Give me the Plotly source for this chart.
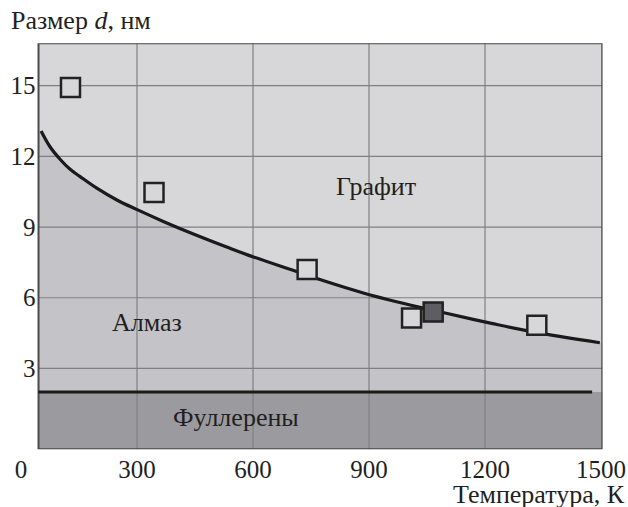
import plotly.graph_objects as go

# ---------------- data ----------------
# boundary curve diamond / graphite: temperature (K) vs size d (nm)
curve_T = [52, 75, 101, 127, 153, 196, 248, 299, 368, 454, 532, 584, 722, 773, 894, 1032, 1097, 1217, 1324, 1497]
curve_d = [13.08, 12.41, 11.88, 11.45, 11.14, 10.65, 10.15, 9.75, 9.24, 8.65, 8.15, 7.83, 7.06, 6.77, 6.16, 5.59, 5.35, 4.91, 4.55, 4.09]

# experimental points (open squares)
open_T = [128, 344, 740, 1010, 1334]
open_d = [14.92, 10.47, 7.20, 5.14, 4.83]
# filled square
filled_T = [1066]
filled_d = [5.39]

# fullerene boundary
fullerene_d = 2.0
fullerene_T = [45, 1477]

x_ticks = [0, 300, 600, 900, 1200, 1500]
y_ticks = [3, 6, 9, 12, 15]
x_grid = [300, 600, 900, 1200]
y_grid = [3, 6, 9, 12, 15]

region_labels = ["Графит", "Алмаз", "Фуллерены"]
region_T = [919, 327, 556]
region_d = [10.74, 4.93, 0.90]
y_title = "Размер <i>d</i>, нм"
x_title = "Температура, К"

# ---------------- layout geometry ----------------
W, H = 628, 507
FONT = "Liberation Serif, Times New Roman, serif"
TXT = "#231f20"
X_RANGE = [0, 1504]
Y_RANGE = [-0.433, 16.80]
FRAME_X = [45.3, 1503.3]
C_GRAPHITE = "#d7d7d9"
C_DIAMOND = "#c4c4c8"
C_FULL = "#9b9b9f"
C_GRID = "#808080"
X0_PX, X_SCALE = 21.0, 0.38667   # pixel of T=0, pixels per kelvin


def px_x(p):
    return p / W


def px_y(p):
    return 1 - p / H


fig = go.Figure()

shapes = []
shapes.append(dict(type="rect", xref="x", yref="y", x0=FRAME_X[0], x1=FRAME_X[1],
                   y0=Y_RANGE[0], y1=Y_RANGE[1], fillcolor=C_GRAPHITE, line_width=0, layer="below"))
path = f"M {FRAME_X[0]},{Y_RANGE[0]} L {FRAME_X[0]},{curve_d[0]} "
path += " ".join(f"L {t},{d}" for t, d in zip(curve_T, curve_d))
path += f" L {FRAME_X[1]},{curve_d[-1]} L {FRAME_X[1]},{Y_RANGE[0]} Z"
shapes.append(dict(type="path", xref="x", yref="y", path=path, fillcolor=C_DIAMOND,
                   line_width=0, layer="below"))
shapes.append(dict(type="rect", xref="x", yref="y", x0=FRAME_X[0], x1=FRAME_X[1],
                   y0=Y_RANGE[0], y1=fullerene_d, fillcolor=C_FULL, line_width=0, layer="below"))
for gx in x_grid:
    shapes.append(dict(type="line", xref="x", yref="y", x0=gx, x1=gx, y0=Y_RANGE[0], y1=Y_RANGE[1],
                       line=dict(color=C_GRID, width=1.2), layer="below"))
for gy in y_grid:
    shapes.append(dict(type="line", xref="x", yref="y", x0=FRAME_X[0], x1=FRAME_X[1], y0=gy, y1=gy,
                       line=dict(color=C_GRID, width=1.2), layer="below"))
shapes.append(dict(type="rect", xref="x", yref="y", x0=FRAME_X[0], x1=FRAME_X[1],
                   y0=Y_RANGE[0], y1=Y_RANGE[1], fillcolor="rgba(0,0,0,0)",
                   line=dict(color="#4a4a4a", width=2), layer="below"))

fig.add_trace(go.Scatter(x=fullerene_T, y=[fullerene_d] * len(fullerene_T), mode="lines",
                         line=dict(color="#1a1a1a", width=3), hoverinfo="skip", showlegend=False))
fig.add_trace(go.Scatter(x=curve_T, y=curve_d, mode="lines",
                         line=dict(color="#1a1a1a", width=3.2, shape="spline", smoothing=1.0),
                         showlegend=False))
fig.add_trace(go.Scatter(x=open_T, y=open_d, mode="markers",
                         marker=dict(symbol="square", size=19, color=C_GRAPHITE,
                                     line=dict(color="#222222", width=2.5)),
                         showlegend=False))
fig.add_trace(go.Scatter(x=filled_T, y=filled_d, mode="markers",
                         marker=dict(symbol="square", size=19, color="#5e5e62",
                                     line=dict(color="#222222", width=2.5)),
                         showlegend=False))

annotations = []
for lbl, t, d in zip(region_labels, region_T, region_d):
    annotations.append(dict(text=lbl, x=t, y=d, xref="x", yref="y", showarrow=False,
                            font=dict(family=FONT, size=26, color=TXT)))
annotations.append(dict(text=y_title, x=px_x(9), y=px_y(21), xref="paper", yref="paper",
                        xanchor="left", yanchor="middle", showarrow=False,
                        font=dict(family=FONT, size=26, color=TXT)))
annotations.append(dict(text=x_title, x=px_x(627), y=px_y(494), xref="paper", yref="paper",
                        xanchor="right", yanchor="middle", showarrow=False,
                        font=dict(family=FONT, size=26, color=TXT)))

x_dom1 = X0_PX + X_SCALE * X_RANGE[1]

fig.update_layout(
    width=W, height=H,
    margin=dict(l=0, r=0, t=0, b=0),
    paper_bgcolor="white", plot_bgcolor="rgba(0,0,0,0)",
    shapes=shapes, annotations=annotations,
    xaxis=dict(domain=[px_x(X0_PX), px_x(x_dom1)], range=X_RANGE, tickvals=x_ticks,
               ticktext=[str(v) for v in x_ticks], showgrid=False, zeroline=False,
               showline=False, ticks="", automargin=False, ticklabelstandoff=3,
               tickfont=dict(family=FONT, size=25, color=TXT)),
    yaxis=dict(domain=[px_y(449.3), px_y(43.3)], range=Y_RANGE, tickvals=y_ticks,
               showgrid=False, zeroline=False, showline=False, ticks="", anchor="free",
               position=px_x(38.5), automargin=False, ticklabelstandoff=3,
               tickfont=dict(family=FONT, size=25, color=TXT)),
    showlegend=False,
)

fig.write_html("out.html", config={"displayModeBar": False},
               post_script="document.body.style.margin='0px';"
                           "document.body.style.overflow='hidden';")
